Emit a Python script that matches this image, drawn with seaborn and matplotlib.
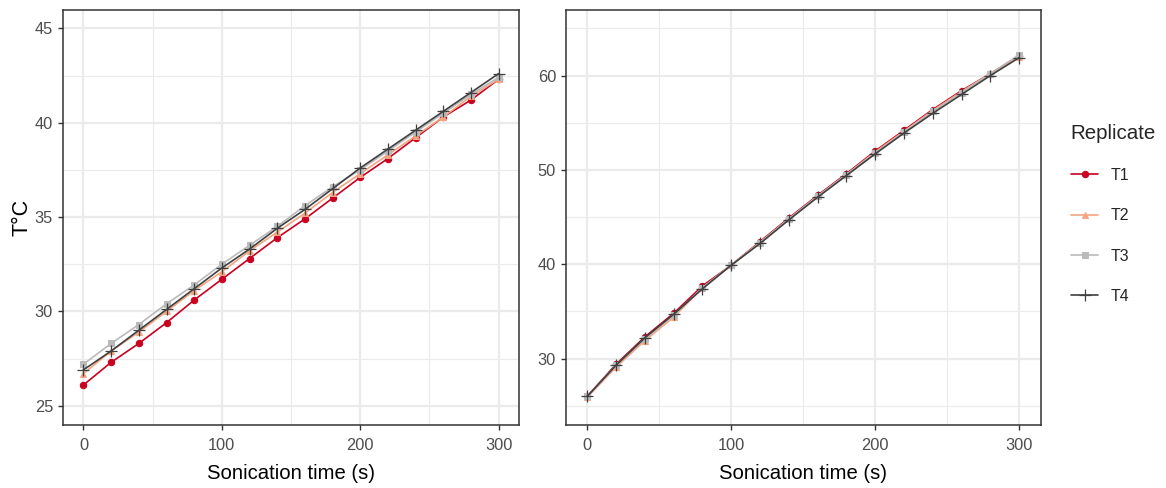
import matplotlib
matplotlib.use("Agg")
import matplotlib.pyplot as plt
import numpy as np
import pandas as pd
import seaborn as sns
from matplotlib.ticker import MultipleLocator

# Sonication time points (s)
time_s = [0, 20, 40, 60, 80, 100, 120, 140, 160, 180, 200, 220, 240, 260, 280, 300]
replicates = ["T1", "T2", "T3", "T4"]

# Panel A temperatures (°C)
a_t1 = [26.1, 27.3, 28.3, 29.4, 30.6, 31.7, 32.8, 33.9, 34.9, 36.0, 37.1, 38.1, 39.2, 40.3, 41.2, 42.3]
a_t2 = [26.7, 27.9, 28.9, 30.0, 31.1, 32.1, 33.2, 34.2, 35.2, 36.3, 37.3, 38.3, 39.3, 40.3, 41.4, 42.3]
a_t3 = [27.2, 28.3, 29.3, 30.4, 31.4, 32.5, 33.5, 34.5, 35.6, 36.6, 37.5, 38.5, 39.5, 40.5, 41.5, 42.4]
a_t4 = [26.9, 27.9, 29.0, 30.1, 31.2, 32.3, 33.3, 34.4, 35.4, 36.5, 37.6, 38.6, 39.6, 40.6, 41.6, 42.6]

# Panel B temperatures (°C)
b_t1 = [26.0, 29.4, 32.3, 34.8, 37.7, 39.9, 42.4, 44.9, 47.3, 49.6, 52.0, 54.2, 56.4, 58.4, 60.2, 62.1]
b_t2 = [25.9, 29.1, 31.9, 34.4, 37.5, 39.9, 42.3, 44.8, 47.2, 49.5, 51.9, 54.1, 56.3, 58.3, 60.2, 62.0]
b_t3 = [26.0, 29.3, 32.1, 34.6, 37.5, 39.9, 42.3, 44.8, 47.2, 49.5, 51.8, 54.0, 56.2, 58.2, 60.2, 62.2]
b_t4 = [26.0, 29.3, 32.2, 34.7, 37.4, 39.9, 42.2, 44.7, 47.1, 49.4, 51.7, 53.9, 56.0, 58.0, 60.0, 61.9]


def long_table(series):
    frames = []
    for rep, vals in zip(replicates, series):
        frames.append(pd.DataFrame({"time": time_s, "temp": vals, "Replicate": rep}))
    return pd.concat(frames, ignore_index=True)


df_a = long_table([a_t1, a_t2, a_t3, a_t4])
df_b = long_table([b_t1, b_t2, b_t3, b_t4])

sns.set_theme(style="white")
plt.rcParams["font.family"] = ["Liberation Sans", "DejaVu Sans"]

colors = {"T1": "#CA0020", "T2": "#F4A582", "T3": "#BABABA", "T4": "#404040"}
marker_style = {
    "T1": dict(marker="o", markersize=4.6),
    "T2": dict(marker="^", markersize=5.0),
    "T3": dict(marker="s", markersize=4.4),
    "T4": dict(marker="+", markersize=8.0, markeredgewidth=0.9),
}

fig = plt.figure(figsize=(11.66, 4.88), dpi=100)
ax_a = fig.add_axes([0.0538, 0.130, 0.3916, 0.8505])
ax_b = fig.add_axes([0.4852, 0.130, 0.4074, 0.8505])

tick_color = "#4D4D4D"
border = "#333333"


def draw(ax, df, ylim, ymajor):
    for rep in replicates:
        ms = marker_style[rep]
        sns.lineplot(
            data=df[df["Replicate"] == rep], x="time", y="temp", ax=ax,
            color=colors[rep], linewidth=1.2, label=rep,
            markeredgecolor=colors[rep], **ms,
        )
    ax.set_xlim(-15, 315)
    ax.set_ylim(*ylim)
    ax.xaxis.set_major_locator(MultipleLocator(100))
    ax.xaxis.set_minor_locator(MultipleLocator(50))
    ax.yaxis.set_major_locator(MultipleLocator(ymajor))
    ax.yaxis.set_minor_locator(MultipleLocator(ymajor / 2))
    ax.grid(which="major", color="#EBEBEB", linewidth=1.6)
    ax.grid(which="minor", color="#EBEBEB", linewidth=0.8)
    ax.set_axisbelow(True)
    for sp in ax.spines.values():
        sp.set_visible(True)
        sp.set_color(border)
        sp.set_linewidth(1.1)
    ax.tick_params(which="major", direction="out", length=3.8, width=1.0,
                   color=border, labelcolor=tick_color, labelsize=11.8,
                   bottom=True, left=True)
    ax.tick_params(axis="x", which="major", pad=6.0)
    ax.tick_params(axis="y", which="major", pad=3.2)
    ax.tick_params(which="minor", length=0)
    ax.set_xlabel("Sonication time (s)", fontsize=14.6, color="black", labelpad=7.5)
    ax.set_ylabel("")


draw(ax_a, df_a, (24, 46), 5)
draw(ax_b, df_b, (23, 67), 10)

ax_a.set_ylabel("T°C", fontsize=15.5, color="black", labelpad=1.8)

ax_a.get_legend().remove()
handles, labels = ax_b.get_legend_handles_labels()
ax_b.get_legend().remove()
leg = fig.legend(
    handles, labels, title="Replicate", loc="upper left",
    bbox_to_anchor=(0.906, 0.776), frameon=False, fontsize=11.4,
    title_fontsize=14.8, handlelength=1.75, handletextpad=0.8,
    labelspacing=1.6, alignment="left",
)

fig.savefig("out.png", dpi=100)
